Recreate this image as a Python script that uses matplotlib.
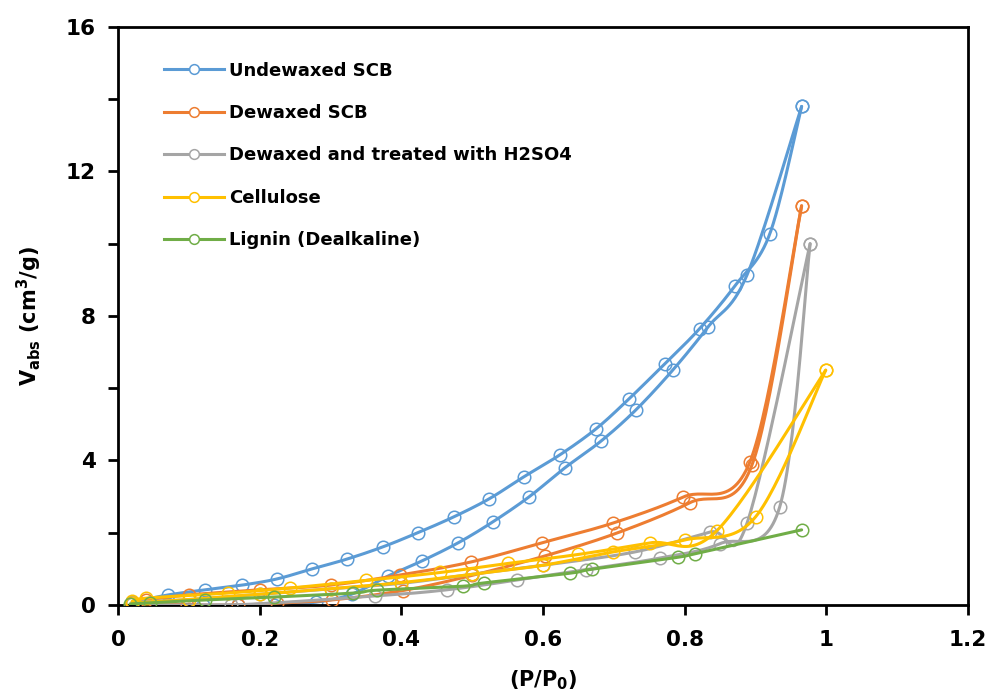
import matplotlib
matplotlib.use('Agg')
import matplotlib.pyplot as plt
import numpy as np
from matplotlib.ticker import MultipleLocator, FuncFormatter

plt.rcParams['font.family'] = 'DejaVu Sans'
plt.rcParams['font.weight'] = 'bold'
plt.rcParams['mathtext.default'] = 'bf'

# Isotherm data: relative pressure (P/P0) and adsorbed volume (cm3/g), two branches per sample
undewaxed_x1 = [0.02, 0.071, 0.123, 0.175, 0.224, 0.274, 0.323, 0.374, 0.423, 0.474, 0.524, 0.573,
                0.624, 0.675, 0.721, 0.772, 0.821, 0.871, 0.920, 0.965]
undewaxed_y1 = [0.08, 0.28, 0.42, 0.55, 0.72, 1.00, 1.27, 1.61, 2.00, 2.44, 2.94, 3.55,
                4.16, 4.88, 5.70, 6.68, 7.65, 8.84, 10.27, 13.80]
undewaxed_x2 = [0.02, 0.07, 0.12, 0.17, 0.22, 0.28, 0.33, 0.381, 0.429, 0.480, 0.529, 0.580,
                0.631, 0.682, 0.731, 0.783, 0.833, 0.888, 0.965]
undewaxed_y2 = [0.05, 0.03, 0.00, 0.00, 0.00, 0.08, 0.30, 0.80, 1.22, 1.72, 2.30, 2.99,
                3.80, 4.54, 5.40, 6.50, 7.70, 9.14, 13.80]

dewaxed_x1 = [0.02, 0.04, 0.10, 0.20, 0.30, 0.398, 0.498, 0.598, 0.699, 0.798, 0.892, 0.965]
dewaxed_y1 = [0.08, 0.14, 0.28, 0.42, 0.55, 0.83, 1.19, 1.72, 2.27, 2.99, 3.96, 11.05]
dewaxed_x2 = [0.02, 0.097, 0.17, 0.224, 0.302, 0.402, 0.50, 0.603, 0.704, 0.807, 0.895, 0.965]
dewaxed_y2 = [0.05, 0.00, 0.00, 0.05, 0.14, 0.40, 0.82, 1.36, 1.99, 2.83, 3.88, 11.05]

h2so4_x1 = [0.02, 0.16, 0.363, 0.464, 0.563, 0.66, 0.765, 0.85, 0.934, 0.977]
h2so4_y1 = [0.03, 0.00, 0.25, 0.42, 0.69, 0.98, 1.30, 1.70, 2.71, 10.00]
h2so4_x2 = [0.02, 0.10, 0.20, 0.30, 0.40, 0.50, 0.60, 0.73, 0.836, 0.888, 0.977]
h2so4_y2 = [0.08, 0.15, 0.30, 0.45, 0.60, 0.85, 1.10, 1.47, 2.02, 2.27, 10.00]

cellulose_x1 = [0.02, 0.04, 0.155, 0.243, 0.35, 0.455, 0.55, 0.65, 0.751, 0.845, 0.999]
cellulose_y1 = [0.10, 0.19, 0.33, 0.47, 0.68, 0.90, 1.15, 1.40, 1.72, 2.05, 6.50]
cellulose_x2 = [0.02, 0.10, 0.20, 0.30, 0.40, 0.50, 0.60, 0.699, 0.80, 0.90, 0.999]
cellulose_y2 = [0.05, 0.15, 0.30, 0.45, 0.62, 0.85, 1.10, 1.47, 1.80, 2.44, 6.50]

lignin_x = [0.017, 0.045, 0.123, 0.22, 0.332, 0.365, 0.487, 0.516, 0.638, 0.669, 0.79, 0.815, 0.965]
lignin_y = [0.03, 0.06, 0.14, 0.22, 0.33, 0.41, 0.52, 0.61, 0.88, 0.99, 1.32, 1.42, 2.08]

labels = ['Undewaxed SCB', 'Dewaxed SCB', 'Dewaxed and treated with H2SO4',
          'Cellulose', 'Lignin (Dealkaline)']
colors = ['#5B9BD5', '#ED7D31', '#A5A5A5', '#FFC000', '#70AD47']

xmax, ymax = 1.2, 16


def smooth(x, y, n=30):
    # spreadsheet-style smoothed line: cubic Bezier segments with tangents from neighbours
    px = np.asarray(x) / xmax * 850
    py = np.asarray(y) / ymax * 578
    pts = np.column_stack([px, py])
    out = [pts[0]]
    t = np.linspace(0, 1, n)[1:, None]
    for i in range(len(pts) - 1):
        p0 = pts[max(i - 1, 0)]
        p1 = pts[i]
        p2 = pts[i + 1]
        p3 = pts[min(i + 2, len(pts) - 1)]
        c1 = p1 + (p2 - p0) / 6
        c2 = p2 - (p3 - p1) / 6
        seg = ((1 - t) ** 3) * p1 + 3 * ((1 - t) ** 2) * t * c1 + 3 * (1 - t) * t ** 2 * c2 + t ** 3 * p2
        out.extend(seg)
    out = np.array(out)
    return out[:, 0] / 850 * xmax, out[:, 1] / 578 * ymax


fig = plt.figure(figsize=(9.97, 6.97), dpi=100)
ax = fig.add_axes([0.1184, 0.132, 0.8526, 0.8293])

series = [
    [(undewaxed_x1, undewaxed_y1), (undewaxed_x2, undewaxed_y2)],
    [(dewaxed_x1, dewaxed_y1), (dewaxed_x2, dewaxed_y2)],
    [(h2so4_x1, h2so4_y1), (h2so4_x2, h2so4_y2)],
    [(cellulose_x1, cellulose_y1), (cellulose_x2, cellulose_y2)],
    [(lignin_x, lignin_y)],
]

lw = 2.2
ms = 9
for k, branches in enumerate(series):
    c = colors[k]
    for j, (x, y) in enumerate(branches):
        sx, sy = smooth(x, y)
        ax.plot(sx, sy, color=c, lw=lw, solid_capstyle='round', zorder=2 + k)
        ax.plot(x, y, ls='none', marker='o', ms=ms, mfc='none', mec=c, mew=1.1, zorder=2 + k)
    # legend proxy
    ax.plot([], [], color=c, lw=lw, marker='o', ms=7, mfc='white', mec=c, mew=1.1, label=labels[k])

ax.set_xlim(0, xmax)
ax.set_ylim(0, ymax)
ax.xaxis.set_major_locator(MultipleLocator(0.2))
ax.yaxis.set_major_locator(MultipleLocator(4))
ax.yaxis.set_minor_locator(MultipleLocator(2))
ax.xaxis.set_major_formatter(FuncFormatter(lambda v, p: '%g' % round(v, 1)))

for s in ax.spines.values():
    s.set_linewidth(2.0)
ax.tick_params(which='both', direction='out', width=2.0, length=7, labelsize=15.5, pad=9)
ax.tick_params(axis='x', pad=11)
ax.tick_params(top=False, right=False)

ax.set_xlabel('(P/P$_{0}$)', fontsize=15, fontweight='bold', labelpad=13)
ax.set_ylabel('V$_{abs}$ (cm$^{3}$/g)', fontsize=15, fontweight='bold', labelpad=16)

ax.legend(loc='upper left', bbox_to_anchor=(0.035, 0.968), frameon=False,
          prop={'size': 13, 'weight': 'bold'}, handlelength=3.3, handletextpad=0.3,
          labelspacing=1.35)

fig.savefig('out.png', dpi=100)
